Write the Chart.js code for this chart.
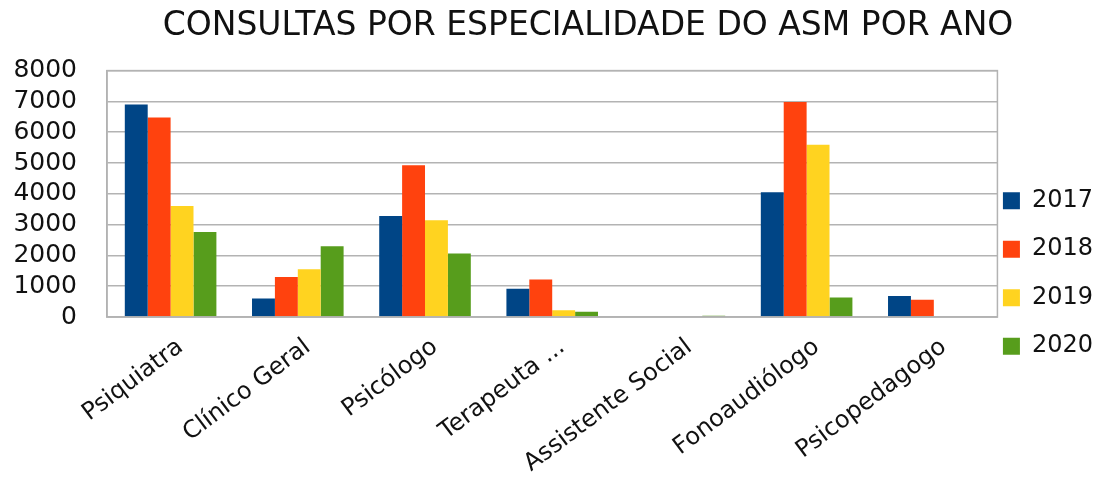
<!DOCTYPE html>
<html>
<head>
<meta charset="utf-8">
<script src="https://cdn.jsdelivr.net/npm/chart.js@4/dist/chart.umd.min.js"></script>
<style>
html,body{margin:0;padding:0;background:#fff;}
#wrap{width:1099px;height:477px;}
</style>
</head>
<body>
<div id="wrap"><canvas id="chart" width="1099" height="477"></canvas></div>
<script>
// data
const categories = ["Psiquiatra","Clínico Geral","Psicólogo","Terapeuta ...","Assistente Social","Fonoaudiólogo","Psicopedagogo"];
const years = ["2017","2018","2019","2020"];
const v2017 = [6900, 600, 3280, 920, 0, 4050, 680];
const v2018 = [6480, 1300, 4930, 1220, 0, 6980, 560];
const v2019 = [3600, 1550, 3140, 220, 0, 5590, 0];
const v2020 = [2760, 2300, 2060, 170, 40, 630, 0];
const yTicks = [0,1000,2000,3000,4000,5000,6000,7000,8000];

const colors = ["#004586","#ff420e","#ffd320","#579d1c"];
const GRID = "#b3b3b3";
const FONT = "'DejaVu Sans'";
const INK = "#111";

/* ===== frame around plot + nudges ===== */
const frame = {
id:"frame",
afterLayout(chart){
// title sits a bit right of page centre in the original
chart.titleBlock.left += 54;
// legend: swatches just right of the plot, a bit lower
chart.legend.left -= 19;
chart.legend.right -= 19;
chart.legend.top += 35;
chart.legend.bottom += 35;
},
afterDraw(chart){
let a = chart.chartArea, c = chart.ctx;
c.save();
c.strokeStyle = GRID;
c.lineWidth = 1.5;
c.strokeRect(a.left, a.top, a.right-a.left, a.bottom-a.top);
c.restore();
}
};

new Chart(document.getElementById("chart"), {
type:"bar",
data:{
labels:categories,
datasets:[v2017,v2018,v2019,v2020].map((d,i)=>({
label:years[i],
data:d,
backgroundColor:colors[i],
borderWidth:0,
categoryPercentage:0.72,
barPercentage:1
}))
},
options:{
responsive:false,
animation:false,
layout:{padding:{left:0,right:-23,top:0,bottom:0}},
plugins:{
title:{
display:true,
text:"CONSULTAS POR ESPECIALIDADE DO ASM POR ANO",
color:INK,
font:{family:FONT,size:33,weight:"normal"},
padding:{top:7,bottom:24}
},
legend:{
position:"right",
labels:{
color:INK,
font:{family:FONT,size:24},
boxWidth:17,
boxHeight:17,
padding:24.5
}
},
tooltip:{enabled:false}
},
scales:{
y:{
min:0,
max:8000,
afterBuildTicks(s){ s.ticks = yTicks.map(v=>({value:v})); },
ticks:{color:INK,font:{family:FONT,size:25},padding:30,autoSkip:false,callback:v=>String(v)},
grid:{color:GRID,lineWidth:1.5,drawTicks:false},
border:{color:GRID,width:1.5},
afterFit(s){ s.width = 107; }
},
x:{
grid:{display:false},
border:{color:GRID,width:1.5},
ticks:{color:INK,font:{family:FONT,size:24},maxRotation:37,minRotation:37,autoSkip:false,padding:8,labelOffset:10},
afterFit(s){ s.height = 160; }
}
}
},
plugins:[frame]
});
</script>
</body>
</html>
